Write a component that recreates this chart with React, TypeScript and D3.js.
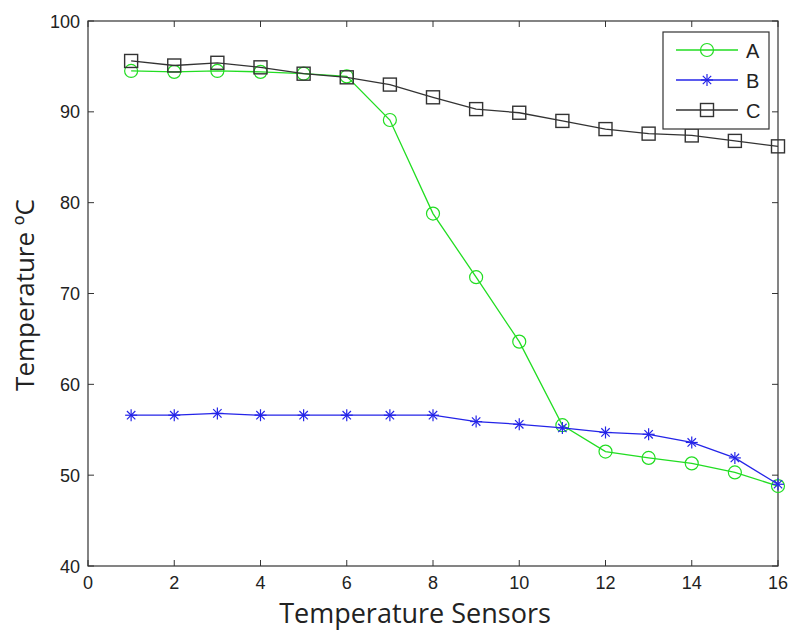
import React from 'react'
import * as d3 from 'd3'

const sensors = [1, 2, 3, 4, 5, 6, 7, 8, 9, 10, 11, 12, 13, 14, 15, 16]
const seriesA = [94.5, 94.4, 94.5, 94.4, 94.2, 93.9, 89.1, 78.8, 71.8, 64.7, 55.5, 52.6, 51.9, 51.3, 50.3, 48.8]
const seriesB = [56.6, 56.6, 56.8, 56.6, 56.6, 56.6, 56.6, 56.6, 55.9, 55.6, 55.2, 54.7, 54.5, 53.6, 51.9, 49.0]
const seriesC = [95.6, 95.1, 95.4, 94.9, 94.2, 93.8, 93.0, 91.6, 90.3, 89.9, 89.0, 88.1, 87.6, 87.4, 86.8, 86.2]
const xTicks = [0, 2, 4, 6, 8, 10, 12, 14, 16]
const yTicks = [40, 50, 60, 70, 80, 90, 100]
const legendNames = ['A', 'B', 'C']

const colors = ['#22dd22', '#2424e8', '#333333']
const markers = ['circle', 'star', 'square']

const Marker = ({kind, x, y, color}: {kind: string, x: number, y: number, color: string}) => {
  if (kind === 'circle') {
    return <circle cx={x} cy={y} r={6.5} fill="none" stroke={color} strokeWidth={1.2}/>
  }
  if (kind === 'square') {
    return <rect x={x - 6.5} y={y - 6.5} width={13} height={13} fill="none" stroke={color} strokeWidth={1.4}/>
  }
  var r = 6
  var d = r * 0.7
  return (
    <g stroke={color} strokeWidth={1.2}>
      <line x1={x - r} y1={y} x2={x + r} y2={y}/>
      <line x1={x} y1={y - r} x2={x} y2={y + r}/>
      <line x1={x - d} y1={y - d} x2={x + d} y2={y + d}/>
      <line x1={x - d} y1={y + d} x2={x + d} y2={y - d}/>
    </g>
  )
}

const App = () => {
  var left = 88
  var right = 778
  var top = 21
  var bottom = 566

  const x = d3.scaleLinear().domain([0, 16]).range([left, right])
  const y = d3.scaleLinear().domain([40, 100]).range([bottom, top])

  const all = [seriesA, seriesB, seriesC]
  const line = d3.line<number>()
    .x((d, i) => x(sensors[i]))
    .y(d => y(d))

  var tick = 6
  var font = 'Liberation Sans, Arial, sans-serif'

  return (
    <svg width={788} height={633} style={{position: 'absolute', left: 0, top: 0, background: 'white'}}>
      <rect x={left} y={top} width={right - left} height={bottom - top} fill="white" stroke="#333" strokeWidth={1.2}/>
      {xTicks.map(t => (
        <g key={'x' + t}>
          <line x1={x(t)} x2={x(t)} y1={bottom} y2={bottom - tick} stroke="#333"/>
          <line x1={x(t)} x2={x(t)} y1={top} y2={top + tick} stroke="#333"/>
          <text x={x(t)} y={bottom + 23} textAnchor="middle" fontSize={18} fontFamily={font} fill="#222">{t}</text>
        </g>
      ))}
      {yTicks.map(t => (
        <g key={'y' + t}>
          <line x1={left} x2={left + tick} y1={y(t)} y2={y(t)} stroke="#333"/>
          <line x1={right} x2={right - tick} y1={y(t)} y2={y(t)} stroke="#333"/>
          <text x={left - 8} y={y(t) + 6.5} textAnchor="end" fontSize={18} fontFamily={font} fill="#222">{t}</text>
        </g>
      ))}
      {all.map((s, k) => (
        <g key={'s' + k}>
          <path d={line(s) || ''} fill="none" stroke={colors[k]} strokeWidth={1.3}/>
          {s.map((v, i) => <Marker key={i} kind={markers[k]} x={x(sensors[i])} y={y(v)} color={colors[k]}/>)}
        </g>
      ))}
      <g>
        <rect x={663} y={32} width={106} height={97} fill="white" stroke="#333" strokeWidth={1.2}/>
        {legendNames.map((n, k) => {
          var ly = 50 + k * 30
          return (
            <g key={n}>
              <line x1={676} x2={738} y1={ly} y2={ly} stroke={colors[k]} strokeWidth={1.3}/>
              <Marker kind={markers[k]} x={707} y={ly} color={colors[k]}/>
              <text x={746} y={ly + 8} fontSize={20} fontFamily={font} fill="#222">{n}</text>
            </g>
          )
        })}
      </g>
      <text x={415} y={623} textAnchor="middle" fontSize={27} fontFamily="Open Sans, sans-serif" fill="#222">Temperature Sensors</text>
      <text transform="translate(34, 295) rotate(-90)" textAnchor="middle" fontSize={26} fontFamily="Open Sans, sans-serif" fill="#222">Temperature ºC</text>
    </svg>
  )
}

export default App
